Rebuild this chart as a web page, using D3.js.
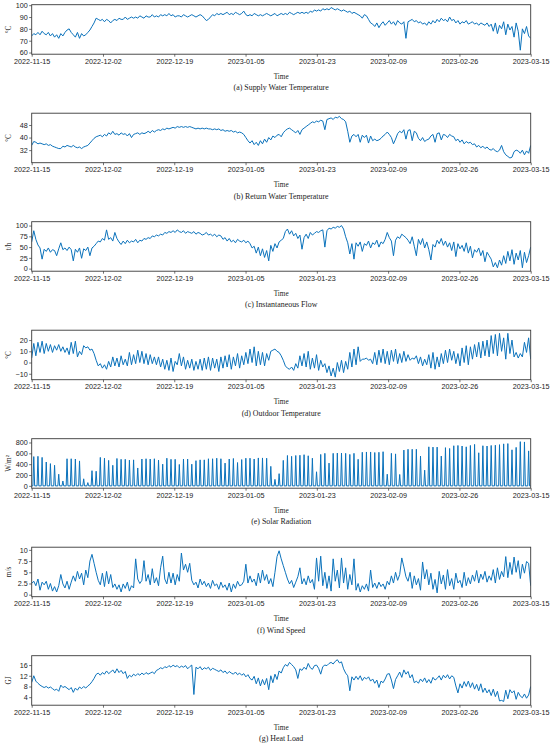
<!DOCTYPE html>
<html lang="en">
<head>
<meta charset="UTF-8">
<title>District heating time series</title>
<script src="https://d3js.org/d3.v7.min.js"></script>
<style>
  body { margin: 0; background: #fff; }
  svg { display: block; font-family: "Liberation Serif", "Times New Roman", serif; }
  .axis path { stroke: none; }
  .axis line { stroke: #333; stroke-width: 0.7; }
  .axis text { font-size: 7.2px; fill: #222; }
  .frame { fill: none; stroke: #3a3a3a; stroke-width: 0.9; }
  .series { fill: none; stroke: #0b72bb; stroke-width: 1; stroke-linejoin: round; }
  .label { font-size: 7.2px; fill: #222; }
  .caption { font-size: 7.9px; fill: #222; }
</style>
</head>
<body>
<svg width="550" height="745"></svg>
<script>
// x ticks: 8 evenly spaced dates over the 120 days
const tickLabels = ["2022-11-15", "2022-12-02", "2022-12-19", "2023-01-05",
                    "2023-01-23", "2023-02-09", "2023-02-26", "2023-03-15"];
const startDate = new Date(2022, 10, 15);
const endDate = new Date(2023, 2, 15);

// one reading every 12 hours
const supplyTemp = [
  74,76,75,77,75,78,76,75,77,74,76,
  73,75,72,76,74,77,79,80,77,75,
  73,77,72,76,74,75,77,79,82,85,
  89,88,87,88,86,88,87,85,87,88,
  87,89,88,88,90,88,89,90,89,90,
  89,91,90,89,91,90,90,92,90,91,
  90,92,91,92,91,93,91,92,90,91,
  91,90,92,91,90,91,92,91,90,91,
  92,91,89,87,88,90,92,91,93,92,
  93,92,93,94,92,93,92,94,93,92,
  93,95,92,91,92,91,93,92,91,92,
  91,92,93,92,91,92,93,91,92,93,
  92,93,92,94,93,92,93,94,93,94,
  93,94,93,95,94,96,95,96,95,97,
  96,97,96,98,97,96,97,96,95,96,
  95,94,95,93,94,93,92,91,89,92,
  91,88,85,84,82,85,81,84,86,83,
  85,87,84,86,83,87,85,84,86,72,
  86,87,88,86,87,85,86,84,85,83,
  86,84,87,85,88,86,89,87,88,86,
  90,87,88,85,87,84,86,85,87,84,
  85,86,84,85,83,85,84,83,85,82,
  84,78,85,76,83,80,86,75,84,79,
  82,73,85,78,62,80,76,82,74,72
];

const returnTemp = [
  35,37.5,37,36,36.5,36,35.5,36,35,35.5,34.5,
  34,33.5,33,33,34.5,34,35,34.5,34,35,
  34,33.5,34,33,34,34.5,35,36.5,38,39.5,
  40.5,41,41.5,40.5,42,41,43,42,44,42,
  42.5,41.5,43,42,42.5,41,42.5,40,42,42.5,
  43,42,43,42.5,43,44,43,44.5,43.5,44.5,
  45,44.5,45.5,45,46,45.5,46,46.5,46,47,
  46.5,47,46.5,47,46.5,47,46.5,46,45.5,46,
  45.5,46,45.5,46,45.5,45.5,45,45.5,45,45.5,
  44.5,45,44,44.5,44,44.5,43.5,44,43,43.5,
  43,42,40,38,36.5,38,35.5,37,35,38,
  36,39,37,40,38.5,41,40,41.5,42,40.5,
  43,44.5,45.5,46,45,44,43,44.5,42,45,
  46,47,48,49,50,49.5,50.5,50,51,50.5,
  45,51.5,52,52.5,51.5,53,52.5,53.5,52,51.5,
  50,44,37,41,42,40.5,42,37,41.5,40,
  41.5,36.5,41,38,39,38,38.5,39.5,41,42,
  43.5,42,40,36,39,42.5,44,43,45,39,
  44.5,45,38,44,43,39.5,38,40,37.5,38.5,
  39,41,42,37,42.5,43,38.5,42,41.5,40,
  42,41,40.5,38,39,37,38.5,36,37.5,36.5,
  37,35.5,36,34,35,33.5,34.5,33,34,32.5,
  32,33,31.5,31,32,35,31,29,28,27,
  27.5,31,32,31.5,30,32,29,31.5,30,35
];

const flow = [
  62,88,68,55,48,22,45,40,48,38,44,
  42,30,46,60,44,48,42,50,44,18,
  45,38,48,24,46,42,50,30,48,52,
  58,64,62,70,66,90,68,72,64,84,
  70,62,56,64,58,66,60,64,62,68,
  60,66,64,70,68,72,70,76,74,78,
  76,80,78,84,82,86,84,88,84,90,
  86,84,88,82,86,84,82,86,80,84,
  82,78,80,84,78,80,76,80,74,78,
  76,68,72,64,70,62,66,60,68,64,
  62,66,60,64,58,48,52,36,50,30,
  46,26,42,18,54,40,58,48,62,66,
  70,86,92,80,88,76,82,70,78,45,
  72,80,70,84,78,82,86,84,88,90,
  50,88,94,92,96,94,98,96,100,92,
  74,60,34,58,22,60,52,62,40,58,
  54,64,48,60,56,66,50,62,58,68,
  84,72,64,30,66,74,70,80,76,72,
  66,58,74,52,30,68,56,70,48,62,
  44,20,56,50,66,58,70,54,64,50,
  60,42,62,28,58,46,54,40,60,36,
  52,25,44,38,48,30,42,16,38,30,
  22,4,14,2,20,8,30,12,40,18,
  44,10,36,20,42,2,38,14,30,50
];

const outdoorTemp = [
  4,17,6,18,9,19,8,17,10,16,9,
  15,11,16,10,14,9,13,7,18,8,
  19,5,10,7,15,13,14,11,12,8,
  2,-3,-1,-5,-2,-6,1,-4,5,-3,
  4,-4,6,-2,3,-3,9,-2,7,-1,
  11,0,10,-1,8,-2,7,-1,5,-2,
  5,-4,3,-6,2,-7,4,-8,1,-2,
  8,-3,5,-6,2,-5,3,-7,1,-6,
  3,-7,4,-6,5,-7,4,-5,3,-8,
  5,-5,6,-4,7,-6,5,-3,8,-5,
  6,-2,9,-1,12,0,14,-3,10,-2,
  9,-3,8,2,10,11,12,10,9,6,
  2,-3,-5,-6,-4,-7,-1,-5,6,-3,
  8,-4,10,-6,4,-5,7,-7,2,-4,
  -1,-9,-3,-12,-5,-13,0,-8,2,-9,
  1,-6,9,-4,12,-2,14,1,3,3,
  4,2,3,-1,9,-2,11,0,12,-1,
  10,-2,11,1,12,-1,8,0,10,1,
  7,2,4,3,6,-1,5,-3,3,-2,
  7,-5,9,-6,5,-4,8,-1,11,0,
  12,2,10,-1,8,-3,13,0,15,-2,
  14,3,16,5,18,4,19,6,20,5,
  24,8,25,6,26,10,22,3,26,8,
  20,5,9,4,8,5,18,9,22,3
];

// daily noon peak of solar radiation (zero at night)
const solarPeak = [
  540,545,525,440,410,380,215,90,500,500,
  495,460,130,60,280,270,525,510,470,380,
  505,490,490,475,480,330,495,500,495,500,
  475,400,510,490,490,395,495,495,400,465,
  480,480,500,500,510,500,420,495,505,430,
  485,510,510,495,515,515,510,360,120,225,
  470,560,545,560,565,575,555,510,260,580,
  600,420,600,605,605,600,580,600,490,620,
  625,625,615,620,630,215,600,590,210,660,
  675,675,675,550,290,720,715,715,550,705,
  690,740,745,735,720,745,765,610,740,735,
  745,750,760,775,780,665,710,815,810,645
];

const windSpeed = [
  2.5,3,2,3.5,1,2.8,2.2,3,1.2,2.5,0.8,
  1.8,0.6,2,4.5,2.4,1.5,3,1.2,2.8,4.2,
  3,5.2,3.5,4.8,2.2,5.5,3.8,7.5,9,7,
  5,3.2,2.2,4.8,1.8,5.2,2.4,4.5,1.6,2.4,
  1.2,2.2,0.6,2.4,1.4,2.8,0.8,2,1.5,8,
  3.5,2.5,3.2,7.6,3,4.5,2.2,5.8,2.6,3.8,
  2,6,8.6,3.5,2.4,5,2.6,4.8,2.2,4.5,
  3,9.3,5.5,6.8,5,7,3.2,2.2,2.8,1.5,
  3.5,2.2,3,1.8,2.6,1.4,3.2,2,2.4,1.2,
  2.8,1.6,2.2,1,2.6,0.6,2.4,1.4,3,2,
  2.2,3,6.8,2.6,4.2,2.8,3.5,2,4.8,2.6,
  5.5,3.2,4.5,2.4,3.6,1.8,5,8.5,9.8,8,
  6.5,5,3.5,2.4,3.2,1.6,2.8,4,6,2.4,
  3.6,2.2,4.2,2.6,3.4,1.2,8.2,3,8.6,2,
  5,1.4,4.2,0.8,8,3,5.5,1.5,8.2,2.6,
  6,1.2,4.5,2.2,8,1,2.5,0.6,2,1.2,
  2.4,0.8,5.5,1.6,2.6,1.4,2.8,1.8,2.4,1.2,
  3,2.2,4.2,2.6,5,3.2,4.5,8.2,6.2,4,
  3,5,1.4,4.2,2.2,3.6,1,7.3,3.5,5.6,
  2.2,4.8,1.2,3.4,0.4,5.2,2.4,4.4,1.2,5.6,
  2,3.6,1.2,4.8,2.6,3.2,1.6,5,2,3.8,
  2.4,4.4,3,5.4,2.6,4.6,3.4,5.2,2.8,4.2,
  3.2,5.6,2.6,6,3.4,5.2,4,8.5,3.8,7.2,
  4.5,8.4,5,7.6,3.6,6.8,4.8,7.4,7,2
];

const heatLoad = [
  9.5,12,10,9.2,8.5,8,7.6,8,7.4,7.8,7.2,
  6.6,7,6.2,8.5,7.6,8,7.4,6.8,7.6,5.8,
  7.4,6.6,7.8,7.2,8,7.4,8.2,8.8,9.8,11,
  12.5,13,12.2,13.2,12.6,13.8,12.8,13.4,14.2,13,
  14.6,13.2,14,12.8,13.6,11,12.2,11.6,12.6,12,
  12.8,12.2,13,12.4,13.2,12.6,13,13.4,12.8,14,
  14.4,15,14.6,15.4,15,15.8,15.2,16,15.4,15.8,
  15,15.6,15.2,15.8,14.6,15.4,16,5,15.2,14.6,
  15.4,14.2,15,14.6,15.2,14,14.8,14.4,14,13.6,
  14.2,13.2,13.8,12.8,13.6,13,12.6,13.4,12.4,13,
  12.2,12.8,11.6,12.4,11,10.4,11.8,9,11.2,8.2,
  10.6,8.6,11,6.8,12,9.4,12.6,10.6,13.8,13,
  15,16.2,15.6,17,16.2,15.4,14.2,11,14.6,14,
  15.2,14.4,16.6,15,14.4,15.8,16,14.8,12.6,15.4,
  16,15.8,16.6,17,16.4,17.4,18,16.8,17.2,14.6,
  13,12,6.4,11.6,10.4,11.8,10.6,12,10.2,11.4,
  10.8,11.6,10,10.8,9.2,10.4,7.6,10,9.4,10.8,
  12.6,12.8,10.4,7.2,10.6,12,13.4,11.4,14.2,12.6,
  13.6,11.2,12.4,9.4,10,9.2,10.8,9.8,11.2,9.4,
  10.6,9.2,11.4,10.4,11,12,10.4,12.2,11.2,12.4,
  10.8,12,11.4,8.2,5.6,9,7.4,9.8,8,10,
  7.6,9.4,7,8.8,6.4,9,5.8,7.4,5.6,6.8,
  4.6,7,4.2,6.2,2.6,2.8,2.4,6.6,3.4,6.8,
  5.6,6.4,3.2,5.8,4.4,3.8,5.2,3.6,4.8,8
];

const HOUR = 3600 * 1000;
const halfDaily = vals => vals.map((v, i) => ({ t: new Date(+startDate + i * 12 * HOUR), v }));

// each day: dark until ~07:00, peak at noon, dark again after ~17:00
function solarSeries(peaks) {
  const pts = [{ t: startDate, v: 0 }];
  peaks.forEach((p, i) => {
    const day = +startDate + i * 24 * HOUR;
    pts.push({ t: new Date(day + 7 * HOUR), v: 0 });
    pts.push({ t: new Date(day + 12 * HOUR), v: p });
    pts.push({ t: new Date(day + 17 * HOUR), v: 0 });
  });
  pts.push({ t: endDate, v: 0 });
  return pts;
}

const panels = [
  { data: halfDaily(supplyTemp), unit: "°C", caption: "(a) Supply Water Temperature", domain: [58.6, 100.4], ticks: [60, 70, 80, 90, 100] },
  { data: halfDaily(returnTemp), unit: "°C", caption: "(b) Return Water Temperature", domain: [24, 55.5], ticks: [32, 40, 48] },
  { data: halfDaily(flow), unit: "t/h", caption: "(c) Instantaneous Flow", domain: [-6, 109], ticks: [0, 25, 50, 75, 100] },
  { data: halfDaily(outdoorTemp), unit: "°C", caption: "(d) Outdoor Temperature", domain: [-15.3, 28.8], ticks: [-10, 0, 10, 20] },
  { data: solarSeries(solarPeak), unit: "W/m²", caption: "(e) Solar Radiation", domain: [-43, 870], ticks: [0, 200, 400, 600, 800] },
  { data: halfDaily(windSpeed), unit: "m/s", caption: "(f) Wind Speed", domain: [-0.45, 10.6], ticks: [0, 2.5, 5, 7.5, 10] },
  { data: halfDaily(heatLoad), unit: "GJ", caption: "(g) Heat Load", domain: [1, 19.5], ticks: [4, 8, 12, 16] }
];

const svg = d3.select("svg");
const left = 31.7, right = 530.7;
const panelH = 49.5, pitch = 108.5, top0 = 4.7;

const x = d3.scaleTime().domain([startDate, endDate]).range([left, right]);
const xTicks = d3.range(tickLabels.length)
  .map(k => new Date(+startDate + k * (endDate - startDate) / (tickLabels.length - 1)));

panels.forEach((p, i) => {
  const top = top0 + i * pitch, bottom = top + panelH;
  const y = d3.scaleLinear().domain(p.domain).range([bottom, top]);
  const g = svg.append("g");

  g.append("clipPath").attr("id", "clip" + i)
    .append("rect").attr("x", left).attr("y", top).attr("width", right - left).attr("height", panelH);

  g.append("path")
    .datum(p.data)
    .attr("class", "series")
    .attr("clip-path", `url(#clip${i})`)
    .attr("d", d3.line().x(d => x(d.t)).y(d => y(d.v)));

  g.append("g")
    .attr("class", "axis")
    .attr("transform", `translate(0,${bottom})`)
    .call(d3.axisBottom(x).tickValues(xTicks).tickFormat((d, k) => tickLabels[k]).tickSize(2.5).tickPadding(2));

  g.append("g")
    .attr("class", "axis")
    .attr("transform", `translate(${left},0)`)
    .call(d3.axisLeft(y).tickValues(p.ticks).tickFormat(d3.format("~g")).tickSize(2.5).tickPadding(1.5));

  g.append("rect")
    .attr("class", "frame")
    .attr("x", left).attr("y", top)
    .attr("width", right - left).attr("height", panelH);

  g.append("text")
    .attr("class", "label")
    .attr("transform", `translate(9.5,${(top + bottom) / 2}) rotate(-90)`)
    .attr("text-anchor", "middle")
    .attr("dominant-baseline", "middle")
    .text(p.unit);

  g.append("text")
    .attr("class", "label")
    .attr("x", (left + right) / 2)
    .attr("y", bottom + 24.5)
    .attr("text-anchor", "middle")
    .text("Time");

  g.append("text")
    .attr("class", "caption")
    .attr("x", (left + right) / 2)
    .attr("y", bottom + 36)
    .attr("text-anchor", "middle")
    .text(p.caption);
});
</script>
</body>
</html>
